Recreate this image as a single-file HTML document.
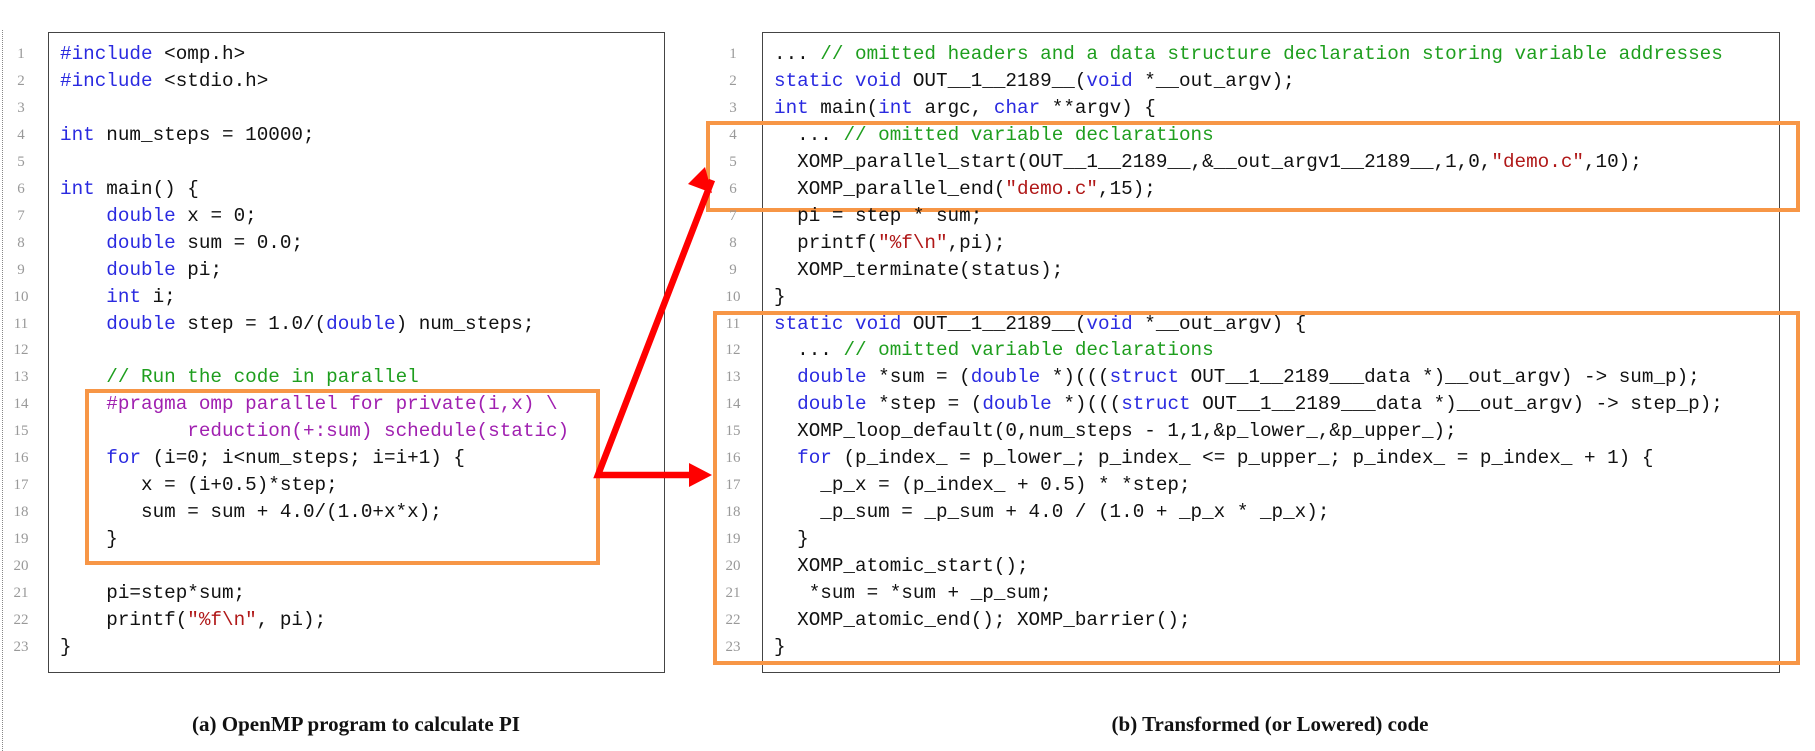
<!DOCTYPE html>
<html><head><meta charset="utf-8"><style>
body{margin:0;width:1815px;height:751px;background:#fff;position:relative;overflow:hidden}
.l{position:absolute;font-family:"Liberation Mono",monospace;font-size:19.3px;white-space:pre;line-height:27px;color:#111}
.n{position:absolute;font-family:"Liberation Serif",serif;font-size:15px;color:#999;line-height:27px;text-align:center;width:30px}
.k{color:#2a2ae0}.c{color:#1e9e1e}.p{color:#a020b0}.s{color:#b01818}
.box{position:absolute;border:1.5px solid #444;box-sizing:border-box}
.ob{position:absolute;border:4px solid #f79646;box-sizing:border-box}
.cap{position:absolute;font-family:"Liberation Serif",serif;font-weight:bold;font-size:21px;color:#111;text-align:center;width:700px}
</style></head><body>
<div style="position:absolute;left:2px;top:30px;height:721px;border-left:1px dotted #888"></div>
<div class="box" style="left:48px;top:32px;width:617px;height:641px"></div>
<div class="box" style="left:762px;top:32px;width:1018px;height:641px"></div>

<div class="ob" style="left:85px;top:389px;width:515px;height:176px"></div>
<div class="ob" style="left:706px;top:121px;width:1094px;height:91px"></div>
<div class="ob" style="left:713px;top:311px;width:1087px;height:354px"></div>

<svg style="position:absolute;left:0;top:0" width="1815" height="751">
<polyline points="712,180 598,475 690,475" fill="none" stroke="#ff0000" stroke-width="6.5"/>
<polygon points="712,475 689,463 689,487" fill="#ff0000"/>
<polygon points="705,167 688,184 712,193" fill="#ff0000"/>
</svg>

<div class="cap" style="left:6px;top:712px">(a) OpenMP program to calculate PI</div>
<div class="cap" style="left:920px;top:712px">(b) Transformed (or Lowered) code</div>

<script>
var Lc=[
'<span class="k">#include</span> &lt;omp.h&gt;',
'<span class="k">#include</span> &lt;stdio.h&gt;',
'',
'<span class="k">int</span> num_steps = 10000;',
'',
'<span class="k">int</span> main() {',
'    <span class="k">double</span> x = 0;',
'    <span class="k">double</span> sum = 0.0;',
'    <span class="k">double</span> pi;',
'    <span class="k">int</span> i;',
'    <span class="k">double</span> step = 1.0/(<span class="k">double</span>) num_steps;',
'',
'    <span class="c">// Run the code in parallel</span>',
'    <span class="p">#pragma omp parallel for private(i,x) \\</span>',
'    <span class="p">       reduction(+:sum) schedule(static)</span>',
'    <span class="k">for</span> (i=0; i&lt;num_steps; i=i+1) {',
'       x = (i+0.5)*step;',
'       sum = sum + 4.0/(1.0+x*x);',
'    }',
'',
'    pi=step*sum;',
'    printf(<span class="s">"%f\\n"</span>, pi);',
'}'];
var Rc=[
'... <span class="c">// omitted headers and a data structure declaration storing variable addresses</span>',
'<span class="k">static void</span> OUT__1__2189__(<span class="k">void</span> *__out_argv);',
'<span class="k">int</span> main(<span class="k">int</span> argc, <span class="k">char</span> **argv) {',
'  ... <span class="c">// omitted variable declarations</span>',
'  XOMP_parallel_start(OUT__1__2189__,&amp;__out_argv1__2189__,1,0,<span class="s">"demo.c"</span>,10);',
'  XOMP_parallel_end(<span class="s">"demo.c"</span>,15);',
'  pi = step * sum;',
'  printf(<span class="s">"%f\\n"</span>,pi);',
'  XOMP_terminate(status);',
'}',
'<span class="k">static void</span> OUT__1__2189__(<span class="k">void</span> *__out_argv) {',
'  ... <span class="c">// omitted variable declarations</span>',
'  <span class="k">double</span> *sum = (<span class="k">double</span> *)(((<span class="k">struct</span> OUT__1__2189___data *)__out_argv) -&gt; sum_p);',
'  <span class="k">double</span> *step = (<span class="k">double</span> *)(((<span class="k">struct</span> OUT__1__2189___data *)__out_argv) -&gt; step_p);',
'  XOMP_loop_default(0,num_steps - 1,1,&amp;p_lower_,&amp;p_upper_);',
'  <span class="k">for</span> (p_index_ = p_lower_; p_index_ &lt;= p_upper_; p_index_ = p_index_ + 1) {',
'    _p_x = (p_index_ + 0.5) * *step;',
'    _p_sum = _p_sum + 4.0 / (1.0 + _p_x * _p_x);',
'  }',
'  XOMP_atomic_start();',
'   *sum = *sum + _p_sum;',
'  XOMP_atomic_end(); XOMP_barrier();',
'}'];
var h='';
for(var i=0;i<23;i++){var y=41+i*26.95;
h+='<div class="n" style="left:6px;top:'+y+'px">'+(i+1)+'</div>';
h+='<div class="l" style="left:60px;top:'+y+'px">'+Lc[i]+'</div>';
h+='<div class="n" style="left:718px;top:'+y+'px">'+(i+1)+'</div>';
h+='<div class="l" style="left:774px;top:'+y+'px">'+Rc[i]+'</div>';}
document.body.insertAdjacentHTML('beforeend',h);
</script>
</body></html>
